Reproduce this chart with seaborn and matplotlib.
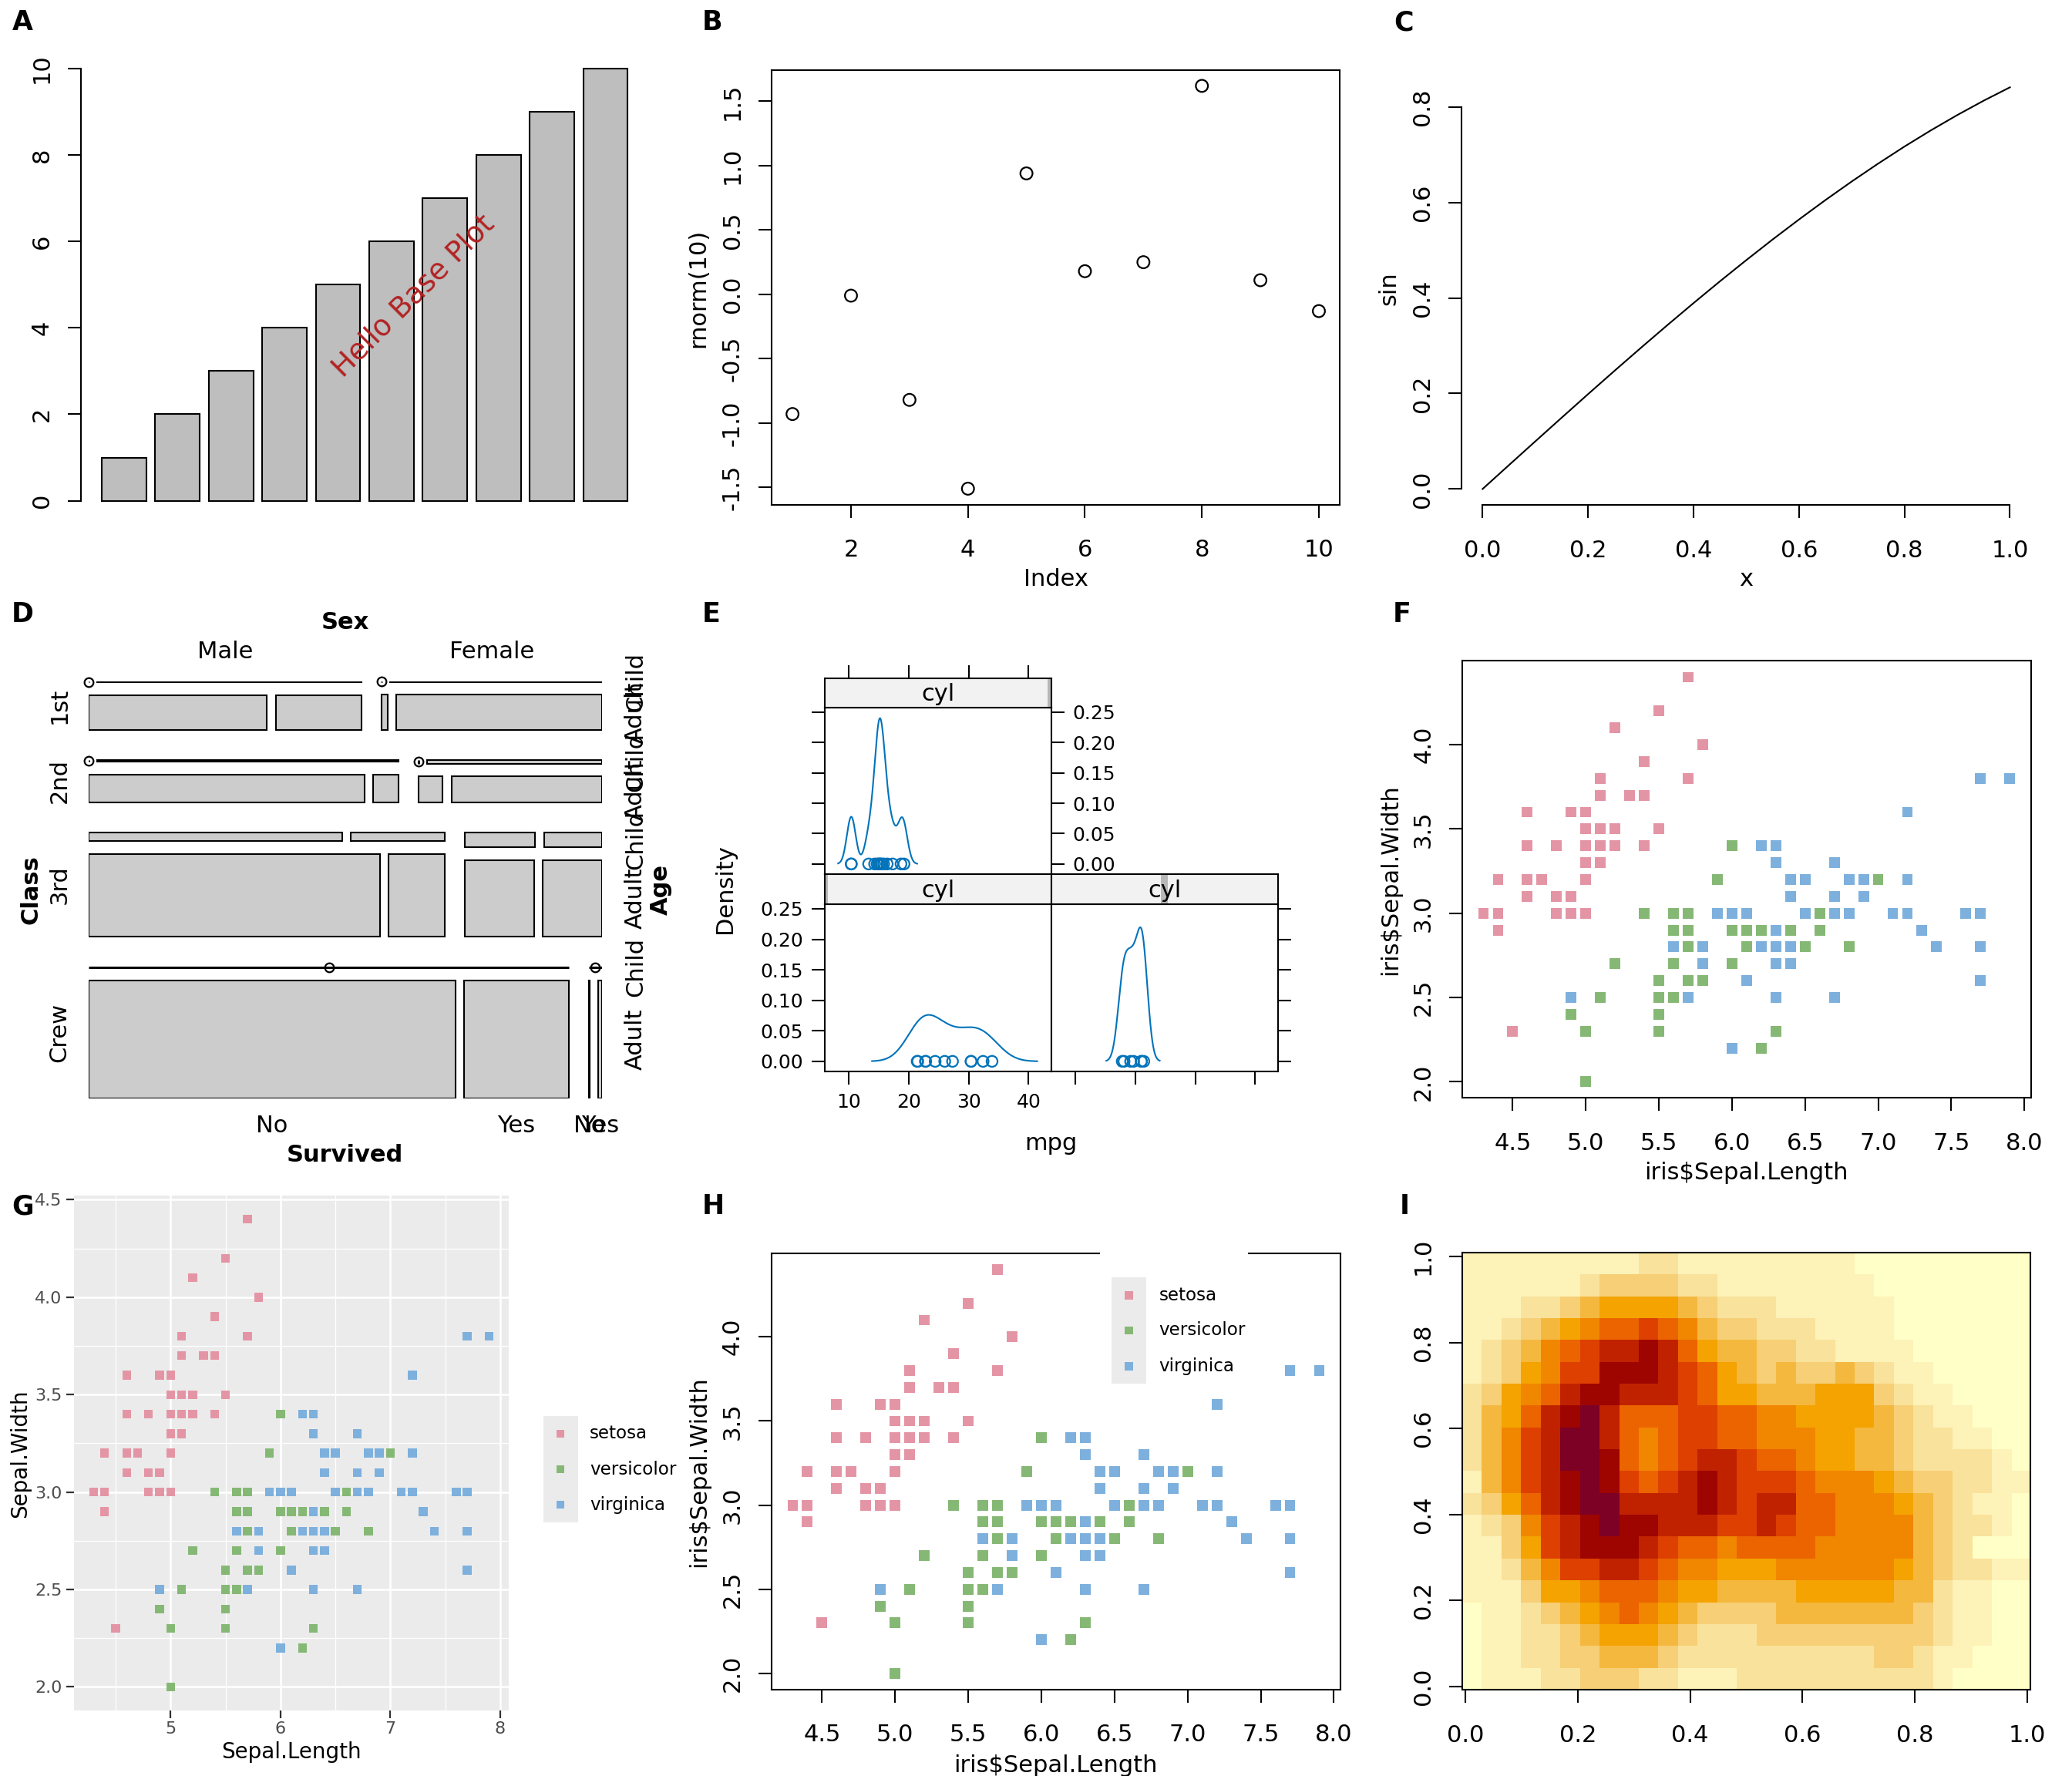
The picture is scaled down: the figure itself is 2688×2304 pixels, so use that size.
import numpy as np
import pandas as pd
import matplotlib
matplotlib.use("Agg")
import matplotlib.pyplot as plt
import seaborn as sns
from matplotlib.colors import ListedColormap
from matplotlib.patches import Rectangle

# ---------------- data ----------------
bar_heights = [1, 2, 3, 4, 5, 6, 7, 8, 9, 10]

rnorm_index = [1, 2, 3, 4, 5, 6, 7, 8, 9, 10]
rnorm_values = [-0.93, -0.01, -0.82, -1.51, 0.94, 0.18, 0.25, 1.62, 0.11, -0.13]

sin_x = [0.00, 0.05, 0.10, 0.15, 0.20, 0.25, 0.30, 0.35, 0.40, 0.45, 0.50,
         0.55, 0.60, 0.65, 0.70, 0.75, 0.80, 0.85, 0.90, 0.95, 1.00]
sin_y = [0.000, 0.050, 0.0998, 0.1494, 0.1987, 0.2474, 0.2955, 0.3429, 0.3894, 0.4350, 0.4794,
         0.5227, 0.5646, 0.6052, 0.6442, 0.6816, 0.7174, 0.7513, 0.7833, 0.8134, 0.8415]

# Titanic counts by class (1st, 2nd, 3rd, Crew)
class_levels = ["1st", "2nd", "3rd", "Crew"]
male_child_no = [0, 0, 35, 0]
male_child_yes = [5, 11, 13, 0]
male_adult_no = [118, 154, 387, 670]
male_adult_yes = [57, 14, 75, 192]
female_child_no = [0, 0, 17, 0]
female_child_yes = [1, 13, 14, 0]
female_adult_no = [4, 13, 89, 3]
female_adult_yes = [140, 80, 76, 20]

# mtcars mpg by cylinders
mpg_cyl4 = [22.8, 24.4, 22.8, 32.4, 30.4, 33.9, 21.5, 27.3, 26.0, 30.4, 21.4]
mpg_cyl6 = [21.0, 21.0, 21.4, 18.1, 19.2, 17.8, 19.7]
mpg_cyl8 = [18.7, 14.3, 16.4, 17.3, 15.2, 10.4, 10.4, 14.7, 15.5, 15.2, 13.3, 19.2, 15.8, 15.0]

# iris sepal measurements
sepal_length = [
    5.1, 4.9, 4.7, 4.6, 5.0, 5.4, 4.6, 5.0, 4.4, 4.9, 5.4, 4.8, 4.8, 4.3, 5.8, 5.7, 5.4, 5.1, 5.7, 5.1,
    5.4, 5.1, 4.6, 5.1, 4.8, 5.0, 5.0, 5.2, 5.2, 4.7, 4.8, 5.4, 5.2, 5.5, 4.9, 5.0, 5.5, 4.9, 4.4, 5.1,
    5.0, 4.5, 4.4, 5.0, 5.1, 4.8, 5.1, 4.6, 5.3, 5.0,
    7.0, 6.4, 6.9, 5.5, 6.5, 5.7, 6.3, 4.9, 6.6, 5.2, 5.0, 5.9, 6.0, 6.1, 5.6, 6.7, 5.6, 5.8, 6.2, 5.6,
    5.9, 6.1, 6.3, 6.1, 6.4, 6.6, 6.8, 6.7, 6.0, 5.7, 5.5, 5.5, 5.8, 6.0, 5.4, 6.0, 6.7, 6.3, 5.6, 5.5,
    5.5, 6.1, 5.8, 5.0, 5.6, 5.7, 5.7, 6.2, 5.1, 5.7,
    6.3, 5.8, 7.1, 6.3, 6.5, 7.6, 4.9, 7.3, 6.7, 7.2, 6.5, 6.4, 6.8, 5.7, 5.8, 6.4, 6.5, 7.7, 7.7, 6.0,
    6.9, 5.6, 7.7, 6.3, 6.7, 7.2, 6.2, 6.1, 6.4, 7.2, 7.4, 7.9, 6.4, 6.3, 6.1, 7.7, 6.3, 6.4, 6.0, 6.9,
    6.7, 6.9, 5.8, 6.8, 6.7, 6.7, 6.3, 6.5, 6.2, 5.9]
sepal_width = [
    3.5, 3.0, 3.2, 3.1, 3.6, 3.9, 3.4, 3.4, 2.9, 3.1, 3.7, 3.4, 3.0, 3.0, 4.0, 4.4, 3.9, 3.5, 3.8, 3.8,
    3.4, 3.7, 3.6, 3.3, 3.4, 3.0, 3.4, 3.5, 3.4, 3.2, 3.1, 3.4, 4.1, 4.2, 3.1, 3.2, 3.5, 3.6, 3.0, 3.4,
    3.5, 2.3, 3.2, 3.5, 3.8, 3.0, 3.8, 3.2, 3.7, 3.3,
    3.2, 3.2, 3.1, 2.3, 2.8, 2.8, 3.3, 2.4, 2.9, 2.7, 2.0, 3.0, 2.2, 2.9, 2.9, 3.1, 3.0, 2.7, 2.2, 2.5,
    3.2, 2.8, 2.5, 2.8, 2.9, 3.0, 2.8, 3.0, 2.9, 2.6, 2.4, 2.4, 2.7, 2.7, 3.0, 3.4, 3.1, 2.3, 3.0, 2.5,
    2.6, 3.0, 2.6, 2.3, 2.7, 3.0, 2.9, 2.9, 2.5, 2.8,
    3.3, 2.7, 3.0, 2.9, 3.0, 3.0, 2.5, 2.9, 2.5, 3.6, 3.2, 2.7, 3.0, 2.5, 2.8, 3.2, 3.0, 3.8, 2.6, 2.2,
    3.2, 2.8, 2.8, 2.7, 3.3, 3.2, 2.8, 3.0, 2.8, 3.0, 2.8, 3.8, 2.8, 2.8, 2.6, 3.0, 3.4, 3.1, 3.0, 3.1,
    3.1, 3.1, 2.7, 3.2, 3.3, 3.0, 2.5, 3.0, 3.4, 3.0]
species_names = ["setosa", "versicolor", "virginica"]
species = [s for s in species_names for _ in range(50)]
species_colors = ["#E495A5", "#86B875", "#7DB0DD"]

# volcano image, colour class per block (top row first)
volcano_levels = [
    [1, 1, 1, 1, 1, 1, 1, 1, 1, 2, 2, 1, 1, 1, 1, 1, 1, 1, 1, 1, 0, 0, 0, 0, 0, 0, 0, 0, 0],
    [1, 1, 1, 1, 1, 1, 2, 3, 3, 3, 3, 2, 2, 1, 1, 1, 1, 1, 1, 1, 1, 0, 0, 0, 0, 0, 0, 0, 0],
    [1, 1, 1, 2, 2, 3, 4, 5, 5, 5, 5, 4, 3, 2, 2, 2, 1, 1, 1, 1, 1, 1, 0, 0, 0, 0, 0, 0, 0],
    [1, 1, 2, 3, 4, 5, 6, 7, 7, 8, 7, 6, 4, 3, 3, 2, 2, 2, 1, 1, 1, 1, 0, 0, 0, 0, 0, 0, 0],
    [1, 2, 3, 4, 6, 7, 8, 9, 9, 10, 9, 7, 5, 4, 4, 3, 3, 2, 2, 1, 1, 1, 1, 0, 0, 0, 0, 0, 0],
    [1, 2, 3, 5, 6, 8, 8, 10, 10, 10, 9, 8, 7, 5, 4, 3, 4, 3, 3, 4, 3, 2, 1, 1, 0, 0, 0, 0, 0],
    [2, 3, 5, 6, 7, 9, 10, 10, 9, 9, 9, 8, 7, 5, 5, 4, 4, 4, 5, 5, 5, 3, 2, 1, 1, 0, 0, 0, 0],
    [2, 4, 5, 7, 9, 10, 11, 9, 7, 7, 7, 8, 8, 7, 7, 6, 6, 5, 5, 5, 5, 4, 3, 2, 1, 1, 0, 0, 0],
    [2, 4, 6, 8, 9, 11, 11, 9, 7, 6, 7, 8, 8, 7, 7, 6, 6, 6, 5, 5, 4, 4, 3, 2, 2, 1, 1, 0, 0],
    [2, 4, 6, 8, 9, 11, 11, 10, 7, 6, 7, 8, 9, 9, 8, 7, 7, 6, 5, 5, 4, 4, 3, 2, 2, 2, 2, 1, 0],
    [1, 4, 6, 8, 9, 10, 11, 10, 8, 7, 8, 9, 10, 9, 8, 8, 8, 7, 6, 6, 6, 5, 4, 3, 3, 2, 2, 1, 1],
    [2, 3, 5, 7, 9, 10, 11, 11, 9, 9, 9, 9, 10, 9, 8, 9, 9, 7, 7, 6, 6, 6, 5, 4, 3, 2, 1, 1, 0],
    [1, 2, 3, 6, 8, 9, 10, 11, 10, 10, 9, 9, 9, 8, 8, 9, 8, 7, 7, 6, 6, 6, 6, 4, 3, 2, 2, 1, 0],
    [1, 1, 3, 5, 8, 9, 10, 10, 10, 9, 8, 7, 7, 6, 7, 7, 7, 7, 6, 6, 6, 6, 6, 4, 3, 2, 0, 0, 0],
    [1, 1, 2, 4, 6, 8, 8, 9, 9, 8, 7, 6, 6, 5, 5, 5, 6, 6, 6, 6, 6, 6, 5, 4, 3, 2, 2, 1, 1],
    [1, 1, 1, 3, 5, 5, 6, 7, 7, 7, 6, 5, 5, 4, 4, 4, 4, 5, 5, 5, 5, 5, 4, 4, 2, 1, 1, 0, 0],
    [0, 1, 1, 2, 3, 4, 5, 6, 7, 6, 5, 4, 3, 3, 3, 3, 4, 4, 4, 4, 4, 4, 4, 3, 2, 1, 1, 0, 0],
    [0, 1, 1, 2, 2, 3, 4, 5, 5, 5, 4, 3, 2, 2, 2, 3, 3, 3, 3, 3, 3, 3, 3, 3, 2, 1, 1, 0, 0],
    [0, 1, 1, 2, 2, 3, 3, 4, 4, 4, 3, 2, 2, 2, 2, 2, 2, 2, 2, 2, 2, 3, 3, 2, 1, 1, 0, 0, 0],
    [0, 1, 1, 1, 2, 2, 3, 3, 3, 2, 2, 1, 1, 1, 2, 2, 2, 2, 2, 2, 2, 2, 2, 2, 1, 0, 0, 0, 0],
]
volcano_colors = ["#FFFFC8", "#FDF2B8", "#F9E29B", "#F6CF76", "#F5B83F", "#F4A300",
                  "#F18600", "#EB6400", "#DD4000", "#C02200", "#9E0500", "#7D0025"]

# ---------------- setup ----------------
LW = 0.75
FS = 11
W, H = 1568.0, 1344.0
fig = plt.figure(figsize=(13.44, 11.52), dpi=200)
fig.patch.set_facecolor("white")


def add_ax(l, t, r, b):
    return fig.add_axes([l / W, 1 - b / H, (r - l) / W, (b - t) / H])


def ftext(x, y, s, **kw):
    kw.setdefault("ha", "center")
    kw.setdefault("va", "center")
    kw.setdefault("fontsize", FS)
    fig.text(x / W, 1 - y / H, s, **kw)


def r_axes(ax, xticks=None, xlabels=None, yticks=None, ylabels=None, box=True):
    ax.set_xlabel("")
    ax.set_ylabel("")
    for sp in ax.spines.values():
        sp.set_linewidth(LW)
        sp.set_color("black")
        sp.set_visible(box)
    ax.tick_params(direction="out", length=6, width=LW, color="black",
                   labelcolor="black", labelsize=FS)
    ax.tick_params(axis="x", pad=10)
    ax.tick_params(axis="y", pad=7)
    if xticks is not None:
        ax.set_xticks(xticks, labels=xlabels)
    else:
        ax.set_xticks([])
    if yticks is not None:
        ax.set_yticks(yticks, labels=ylabels, rotation=90, va="center")
    else:
        ax.set_yticks([])


iris = pd.DataFrame({"Sepal.Length": sepal_length, "Sepal.Width": sepal_width,
                     "Species": species})
iris_pal = dict(zip(species_names, species_colors))
iris_xt = [4.5, 5.0, 5.5, 6.0, 6.5, 7.0, 7.5, 8.0]
iris_yt = [2.0, 2.5, 3.0, 3.5, 4.0]

# ---------------- A: barplot ----------------
axA = add_ax(61.1, 38.9, 491, 392)
sns.barplot(x=list(range(10)), y=bar_heights, color="#BEBEBE", saturation=1,
            width=1 / 1.2, edgecolor="black", linewidth=LW, errorbar=None, ax=axA)
axA.set_xlim(-0.81, 9.81)
axA.set_ylim(-0.4, 10.4)
r_axes(axA, yticks=[0, 2, 4, 6, 8, 10], ylabels=["0", "2", "4", "6", "8", "10"], box=False)
axA.spines["left"].set_visible(True)
axA.spines["left"].set_bounds(0, 10)
axA.text(5.42, 4.73, "Hello Base Plot", rotation=45, color="#B22222", fontsize=13.5,
         ha="center", va="center", rotation_mode="anchor")

# ---------------- B: scatter ----------------
axB = add_ax(583.8, 52.8, 1014, 382)
sns.scatterplot(x=rnorm_index, y=rnorm_values, marker="o", color="none",
                edgecolor="black", s=32, linewidth=0.8, ax=axB)
lo, hi = min(rnorm_values), max(rnorm_values)
axB.set_xlim(1 - 0.36, 10.36)
axB.set_ylim(lo - 0.04 * (hi - lo), hi + 0.04 * (hi - lo))
r_axes(axB, xticks=[2, 4, 6, 8, 10], xlabels=["2", "4", "6", "8", "10"],
       yticks=[-1.5, -1.0, -0.5, 0.0, 0.5, 1.0, 1.5],
       ylabels=["-1.5", "-1.0", "-0.5", "0.0", "0.5", "1.0", "1.5"])
ftext(799, 438.5, "Index")
ftext(528.5, 218, "rnorm(10)", rotation=90)

# ---------------- C: sin curve ----------------
axC = add_ax(1106, 53.9, 1537, 382.2)
sns.lineplot(x=sin_x, y=sin_y, color="black", linewidth=LW, ax=axC)
axC.set_xlim(-0.04, 1.04)
axC.set_ylim(-0.0337, 0.8752)
r_axes(axC, xticks=[0, 0.2, 0.4, 0.6, 0.8, 1.0],
       xlabels=["0.0", "0.2", "0.4", "0.6", "0.8", "1.0"],
       yticks=[0, 0.2, 0.4, 0.6, 0.8], ylabels=["0.0", "0.2", "0.4", "0.6", "0.8"], box=False)
axC.spines["left"].set_visible(True)
axC.spines["left"].set_bounds(0, 0.8)
axC.spines["bottom"].set_visible(True)
axC.spines["bottom"].set_bounds(0, 1)
ftext(1321.5, 438.5, "x")
ftext(1051, 218, "sin", rotation=90)

# ---------------- D: mosaic ----------------
axD = add_ax(67, 515.8, 455.4, 831)
axD.set_xlim(0, 1)
axD.set_ylim(0, 1)
axD.axis("off")
cells = {}
for i in range(4):
    cells[(i, 0, 0)] = (male_child_no[i], male_child_yes[i])
    cells[(i, 0, 1)] = (male_adult_no[i], male_adult_yes[i])
    cells[(i, 1, 0)] = (female_child_no[i], female_child_yes[i])
    cells[(i, 1, 1)] = (female_adult_no[i], female_adult_yes[i])
class_tot = [sum(sum(cells[(i, s, a)]) for s in range(2) for a in range(2)) for i in range(4)]
gap_c, gap_s, gap_a, gap_v = 0.0731, 0.0388, 0.0307, 0.0169
grey = "#CCCCCC"


def zero_mark(x0, y0, x1, y1):
    axD.plot([x0, x1], [y0, y1], color="black", lw=1.1, solid_capstyle="butt")
    axD.plot([(x0 + x1) / 2], [(y0 + y1) / 2], "o", mfc="none", mec="black", ms=4.2, mew=0.8,
             clip_on=False)


data_h = 1 - 3 * gap_c
y_top = 1.0
for i in range(4):
    h = class_tot[i] / sum(class_tot) * data_h
    sex_tot = [sum(cells[(i, s, 0)]) + sum(cells[(i, s, 1)]) for s in range(2)]
    x0 = 0.0
    for s in range(2):
        w = sex_tot[s] / class_tot[i] * (1 - gap_s)
        age_tot = [sum(cells[(i, s, a)]) for a in range(2)]
        yy = y_top
        age_centres = []
        for a in range(2):
            ah = age_tot[a] / sum(age_tot) * (h - gap_a)
            if ah == 0:
                zero_mark(x0, yy, x0 + w, yy)
                age_centres.append(yy)
            else:
                xx = x0
                surv_centres = []
                for v in cells[(i, s, a)]:
                    vw = v / age_tot[a] * (w - gap_v)
                    if vw == 0:
                        zero_mark(xx, yy - ah, xx, yy)
                    else:
                        axD.add_patch(Rectangle((xx, yy - ah), vw, ah, facecolor=grey,
                                                edgecolor="black", lw=LW))
                    surv_centres.append(xx + vw / 2)
                    xx += vw + gap_v
                age_centres.append(yy - ah / 2)
                if i == 3 and a == 1:
                    for lab, cx in zip(["No", "Yes"], surv_centres):
                        axD.text(cx, -0.067, lab, ha="center", va="center", fontsize=FS)
            yy = yy - ah - gap_a
        if i == 0:
            axD.text(x0 + w / 2, 1.072, ["Male", "Female"][s], ha="center", va="center",
                     fontsize=FS)
        if s == 1:
            for lab, cy in zip(["Child", "Adult"], age_centres):
                axD.text(1.066, cy, lab, rotation=90, ha="center", va="center", fontsize=FS)
        x0 += w + gap_s
    axD.text(-0.057, y_top - h / 2, class_levels[i], rotation=90, ha="center", va="center",
             fontsize=FS)
    y_top -= h + gap_c
axD.text(0.5, 1.142, "Sex", ha="center", va="center", fontsize=FS, fontweight="bold")
axD.text(0.5, -0.136, "Survived", ha="center", va="center", fontsize=FS, fontweight="bold")
axD.text(-0.113, 0.5, "Class", rotation=90, ha="center", va="center", fontsize=FS,
         fontweight="bold")
axD.text(1.115, 0.5, "Age", rotation=90, ha="center", va="center", fontsize=FS,
         fontweight="bold")

# ---------------- E: lattice density ----------------
ECOL = "#0073BA"
xlimE = (5.92, 43.75)
ylimE = (-0.0163, 0.2574)
e_yt = [0.0, 0.05, 0.10, 0.15, 0.20, 0.25]
e_yl = ["0.00", "0.05", "0.10", "0.15", "0.20", "0.25"]
e_xt = [10, 20, 30, 40]


def nrd0_factor(v):
    v = np.asarray(v, dtype=float)
    sd = v.std(ddof=1)
    q75, q25 = np.percentile(v, [75, 25])
    bw = 0.9 * min(sd, (q75 - q25) / 1.34) * len(v) ** -0.2
    return bw / sd


def e_panel(rect, strip, values, frac):
    ax = add_ax(*rect)
    sns.kdeplot(x=values, bw_method=nrd0_factor(values), cut=3, gridsize=512,
                color=ECOL, linewidth=LW, ax=ax)
    sns.scatterplot(x=values, y=[0.0] * len(values), marker="o", color="none",
                    edgecolor=ECOL, s=26, linewidth=0.8, ax=ax)
    ax.set_xlim(*xlimE)
    ax.set_ylim(*ylimE)
    ax.set_xlabel("")
    ax.set_ylabel("")
    for sp in ax.spines.values():
        sp.set_linewidth(LW)
    ax.set_xticks(e_xt, labels=[str(t) for t in e_xt])
    ax.set_yticks(e_yt, labels=e_yl)
    ax.tick_params(direction="out", length=6, width=LW, labelsize=9)
    ax.tick_params(axis="y", pad=4)
    ax.tick_params(axis="x", pad=4)
    sa = add_ax(*strip)
    sa.set_xlim(0, 1)
    sa.set_ylim(0, 1)
    sa.set_facecolor("#F2F2F2")
    for sp in sa.spines.values():
        sp.set_linewidth(LW)
    sa.add_patch(Rectangle((frac - 0.015, 0), 0.03, 1, facecolor="#B8B8B8", lw=0))
    sa.text(0.5, 0.45, "cyl", ha="center", va="center", fontsize=FS)
    sa.set_xticks([])
    sa.set_yticks([])
    return ax, sa


axE8, sE8 = e_panel((623.9, 535.5, 795.4, 661.3), (623.9, 513.3, 795.4, 535.5), mpg_cyl8, 1.0)
axE8.tick_params(axis="y", left=True, labelleft=False, right=True, labelright=True)
axE8.tick_params(axis="x", bottom=False, labelbottom=False)
sE8.set_xlim(*xlimE)
sE8.set_xticks(e_xt)
sE8.tick_params(axis="x", top=True, bottom=False, labeltop=False, labelbottom=False,
                direction="out", length=6, width=LW)
sE8.patches[0].set_x((xlimE[1] - xlimE[0]) * 0.985 + xlimE[0])
sE8.patches[0].set_width((xlimE[1] - xlimE[0]) * 0.03)
sE8.texts[0].set_x(np.mean(xlimE))

axE4, sE4 = e_panel((623.9, 684.3, 795.4, 810.7), (623.9, 661.3, 795.4, 684.3), mpg_cyl4, 0.0)
axE4.tick_params(axis="y", left=True, labelleft=True, right=False, labelright=False)

axE6, sE6 = e_panel((795.4, 684.3, 966.9, 810.7), (795.4, 661.3, 966.9, 684.3), mpg_cyl6, 0.5)
axE6.tick_params(axis="y", left=False, labelleft=False, right=True, labelright=False)
axE6.tick_params(axis="x", labelbottom=False)

ftext(548.6, 672.7, "Density", rotation=90)
ftext(795.4, 865.3, "mpg")

# ---------------- F: iris base scatter ----------------
axF = add_ax(1106.7, 500.2, 1536.8, 830.9)
sns.scatterplot(data=iris, x="Sepal.Length", y="Sepal.Width", hue="Species", palette=iris_pal,
                marker="s", s=25, linewidth=0, legend=False, ax=axF)
axF.set_xlim(4.156, 8.044)
axF.set_ylim(1.904, 4.496)
r_axes(axF, xticks=iris_xt, xlabels=[f"{v:.1f}" for v in iris_xt],
       yticks=iris_yt, ylabels=[f"{v:.1f}" for v in iris_yt])
ftext(1321.7, 887.7, "iris$Sepal.Length")
ftext(1052, 665.5, "iris$Sepal.Width", rotation=90)

# ---------------- G: ggplot style scatter ----------------
axG = add_ax(55.9, 905, 385.2, 1294.3)
axG.set_facecolor("#EBEBEB")
sns.scatterplot(data=iris, x="Sepal.Length", y="Sepal.Width", hue="Species", palette=iris_pal,
                marker="s", s=17, linewidth=0, legend=False, ax=axG, zorder=3)
axG.set_xlim(4.12, 8.08)
axG.set_ylim(1.88, 4.52)
axG.set_xlabel("")
axG.set_ylabel("")
for sp in axG.spines.values():
    sp.set_visible(False)
axG.set_xticks([5, 6, 7, 8], labels=["5", "6", "7", "8"])
axG.set_xticks([4.5, 5.5, 6.5, 7.5], minor=True)
g_yt = [2.0, 2.5, 3.0, 3.5, 4.0, 4.5]
axG.set_yticks(g_yt, labels=[f"{v:.1f}" for v in g_yt])
axG.set_yticks([2.25, 2.75, 3.25, 3.75, 4.25], minor=True)
axG.grid(which="major", color="white", linewidth=0.9)
axG.grid(which="minor", color="white", linewidth=0.45)
axG.set_axisbelow(True)
axG.tick_params(which="major", length=3.5, width=0.8, color="#333333", labelcolor="#4D4D4D",
                labelsize=8)
axG.tick_params(which="minor", length=0)
axG.tick_params(axis="x", pad=1.5)
axG.tick_params(axis="y", pad=2)
ftext(220.5, 1326, "Sepal.Length", fontsize=10)
ftext(15, 1100, "Sepal.Width", rotation=90, fontsize=10)

# ---------------- H: base scatter with legend ----------------
axH = add_ax(584, 948.5, 1014.3, 1278.6)
sns.scatterplot(data=iris, x="Sepal.Length", y="Sepal.Width", hue="Species", palette=iris_pal,
                marker="s", s=25, linewidth=0, legend=False, ax=axH)
axH.set_xlim(4.156, 8.044)
axH.set_ylim(1.904, 4.496)
r_axes(axH, xticks=iris_xt, xlabels=[f"{v:.1f}" for v in iris_xt],
       yticks=iris_yt, ylabels=[f"{v:.1f}" for v in iris_yt])
ftext(799, 1336, "iris$Sepal.Length")
ftext(529, 1113.5, "iris$Sepal.Width", rotation=90)

# ---------------- I: volcano image ----------------
axI = add_ax(1106.4, 948.2, 1536.7, 1278.9)
axI.imshow(np.array(volcano_levels), cmap=ListedColormap(volcano_colors), vmin=-0.5,
           vmax=11.5, origin="upper", aspect="auto", interpolation="nearest",
           extent=(-1 / 172, 1 + 1 / 172, -1 / 120, 1 + 1 / 120))
axI.set_xlim(-1 / 172, 1 + 1 / 172)
axI.set_ylim(-1 / 120, 1 + 1 / 120)
i_t = [0.0, 0.2, 0.4, 0.6, 0.8, 1.0]
r_axes(axI, xticks=i_t, xlabels=[f"{v:.1f}" for v in i_t],
       yticks=i_t, ylabels=[f"{v:.1f}" for v in i_t])

# ---------------- overlay: legends and panel letters ----------------
ov = fig.add_axes([0, 0, 1, 1])
ov.set_xlim(0, W)
ov.set_ylim(H, 0)
ov.axis("off")

# G legend
ov.add_patch(Rectangle((411, 1071.8), 26.4, 80, facecolor="#EBEBEB", lw=0))
ov.scatter([424.3] * 3, [1085, 1112, 1138.9], marker="s", s=13, c=species_colors, linewidths=0)
for yy, lab in zip([1085, 1112, 1138.9], species_names):
    ov.text(446.4, yy, lab, ha="left", va="center", fontsize=8.3)

# H legend
ov.add_patch(Rectangle((832.4, 942), 112.3, 110, facecolor="white", lw=0))
ov.add_patch(Rectangle((841.1, 966.7), 26.6, 80.2, facecolor="#EBEBEB", lw=0))
ov.scatter([854.4] * 3, [980.1, 1006.8, 1033.8], marker="s", s=15, c=species_colors,
           linewidths=0)
for yy, lab in zip([980.1, 1006.8, 1033.8], species_names):
    ov.text(877.2, yy, lab, ha="left", va="center", fontsize=8.3)

for lab, x, y in [("A", 17, 17), ("B", 539, 17), ("C", 1062, 17),
                  ("D", 17, 465), ("E", 538, 465), ("F", 1061, 465),
                  ("G", 17, 913), ("H", 540, 913), ("I", 1063, 913)]:
    ftext(x, y, lab, fontsize=12.5, fontweight="bold")

fig.savefig("out.png", dpi=200, facecolor="white")
